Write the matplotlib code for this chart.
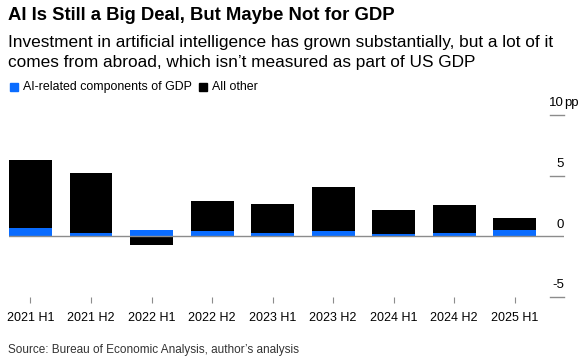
import matplotlib.pyplot as plt
import numpy as np

# data (percentage points)
periods = ['2021 H1', '2021 H2', '2022 H1', '2022 H2', '2023 H1',
           '2023 H2', '2024 H1', '2024 H2', '2025 H1']
ai_related = [0.7, 0.3, 0.5, 0.4, 0.3, 0.45, 0.2, 0.3, 0.5]
all_other = [5.6, 4.9, -0.7, 2.5, 2.4, 3.6, 2.0, 2.3, 1.05]
y_ticks = [-5, 0, 5, 10]

blue = '#0a6cff'
grey = '#8c8c8c'
plt.rcParams['font.family'] = ['Liberation Sans', 'DejaVu Sans']

fig = plt.figure(figsize=(5.82, 3.62), dpi=100)
ax = fig.add_axes([9/582, 65/362, 555/582, 182/362])

x = np.arange(len(periods))
ai = np.array(ai_related)
other = np.array(all_other)
bottom = np.where(other >= 0, np.maximum(ai, 0), 0)

ax.bar(x, ai, width=0.71, color=blue, linewidth=0)
ax.bar(x, other, width=0.71, bottom=bottom, color='black', linewidth=0)
ax.axhline(0, color=grey, lw=1, zorder=3)

ax.set_xlim(-0.355, 8.815)
ax.set_ylim(-5, 10)
for s in ax.spines.values():
    s.set_visible(False)

ax.set_xticks(x)
ax.set_xticklabels(periods, fontsize=9)
ax.tick_params(axis='x', length=4, width=0.8, color=grey, pad=7)
ax.tick_params(axis='y', left=False, labelleft=False)

# right-hand y labels with short tick lines
for v in y_ticks:
    if v != 0:
        ax.plot([1 - 14/555, 1], [v, v], color=grey, lw=1,
                transform=ax.get_yaxis_transform(), clip_on=False)
    ax.annotate(str(v), xy=(1, v), xycoords=ax.get_yaxis_transform(),
                xytext=(0, 4), textcoords='offset points',
                ha='right', va='bottom', fontsize=9.5)
ax.annotate('pp', xy=(1, 10), xycoords=ax.get_yaxis_transform(),
            xytext=(0, 4), textcoords='offset points',
            ha='left', va='bottom', fontsize=9.5)

fig.text(8/582, 1 - 15/362, 'AI Is Still a Big Deal, But Maybe Not for GDP',
         fontsize=13.3, fontweight='bold', va='center', ha='left')
fig.text(8/582, 1 - 43/362,
         'Investment in artificial intelligence has grown substantially, but a lot of it',
         fontsize=12.4, va='center', ha='left')
fig.text(8/582, 1 - 63/362,
         'comes from abroad, which isn\u2019t measured as part of US GDP',
         fontsize=12.4, va='center', ha='left')

# legend
fig.patches.append(plt.Rectangle((10/582, 1 - 91/362), 8/582, 8/362,
                                 transform=fig.transFigure, color=blue))
fig.text(23/582, 1 - 87/362, 'AI-related components of GDP',
         fontsize=8.9, va='center', ha='left')
fig.patches.append(plt.Rectangle((199/582, 1 - 91/362), 8/582, 8/362,
                                 transform=fig.transFigure, color='black'))
fig.text(212/582, 1 - 87/362, 'All other', fontsize=8.9, va='center', ha='left')

fig.text(8/582, 1 - 350/362,
         'Source: Bureau of Economic Analysis, author\u2019s analysis',
         fontsize=8.5, va='center', ha='left', color='#333333')

fig.savefig('out.png', dpi=100)
